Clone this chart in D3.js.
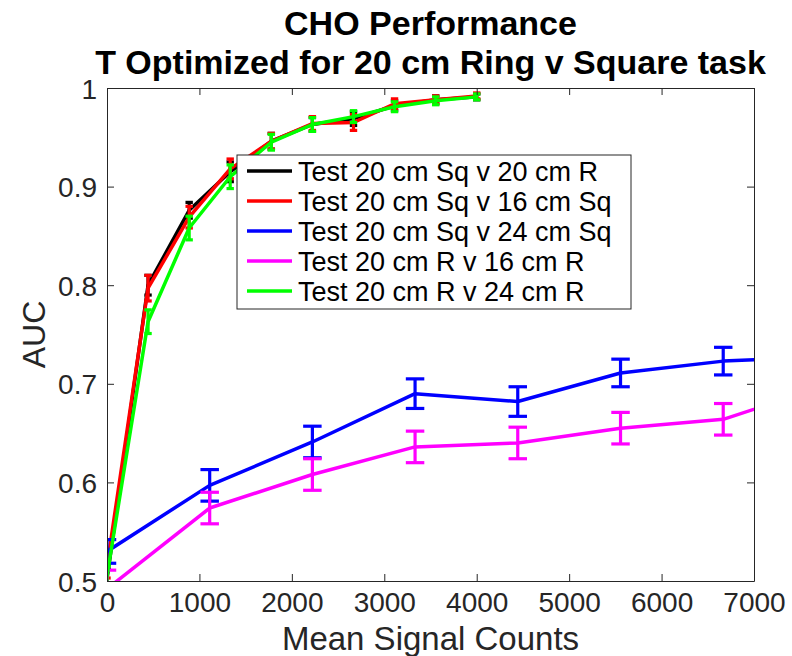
<!DOCTYPE html>
<html>
<head>
<meta charset="utf-8">
<script src="https://cdn.jsdelivr.net/npm/d3@7"></script>
<style>
  html, body { margin: 0; padding: 0; background: #fff; }
  svg { display: block; font-family: "Liberation Sans", Arial, Helvetica, sans-serif; }
</style>
</head>
<body>
<svg id="chart" width="792" height="656"></svg>
<script>
// ---------- data ----------
const titleLines = ["CHO Performance", "T Optimized for 20 cm Ring v Square task"];
const xLabel = "Mean Signal Counts";
const yLabel = "AUC";
const xTicks = [0, 1000, 2000, 3000, 4000, 5000, 6000, 7000];
const yTicks = [0.5, 0.6, 0.7, 0.8, 0.9, 1.0];
const yTickLabels = ["0.5", "0.6", "0.7", "0.8", "0.9", "1"];

const seriesNames = [
  "Test 20 cm Sq v 20 cm R",
  "Test 20 cm Sq v 16 cm Sq",
  "Test 20 cm Sq v 24 cm Sq",
  "Test 20 cm R v 16 cm R",
  "Test 20 cm R v 24 cm R"
];
const seriesColors = ["#000000", "#ff0000", "#0000ff", "#ff00ff", "#00ff00"];

// dense counts (first, second, fifth series)
const countsDense = [0, 444, 889, 1333, 1778, 2222, 2667, 3111, 3556, 4000];
// sparse counts (third, fourth series)
const countsSparse = [0, 1111, 2222, 3333, 4444, 5556, 6667, 7778];

const aucSqR20   = [0.502, 0.800, 0.876, 0.915, 0.946, 0.963, 0.969, 0.982, 0.988, 0.991];
const errSqR20   = [0.010, 0.010, 0.008, 0.010, 0.008, 0.007, 0.007, 0.005, 0.004, 0.003];
const aucSq16    = [0.515, 0.797, 0.869, 0.918, 0.946, 0.964, 0.965, 0.984, 0.988, 0.992];
const errSq16    = [0.012, 0.013, 0.011, 0.010, 0.008, 0.007, 0.008, 0.005, 0.004, 0.003];
const aucSq24    = [0.530, 0.597, 0.641, 0.690, 0.682, 0.711, 0.723, 0.728];
const errSq24    = [0.012, 0.016, 0.016, 0.015, 0.015, 0.014, 0.014, 0.014];
const aucR16     = [0.492, 0.574, 0.608, 0.636, 0.640, 0.655, 0.664, 0.698];
const errR16     = [0.019, 0.016, 0.016, 0.016, 0.016, 0.016, 0.016, 0.016];
const aucR24     = [0.505, 0.763, 0.858, 0.910, 0.945, 0.963, 0.971, 0.981, 0.987, 0.991];
const errR24     = [0.010, 0.012, 0.012, 0.012, 0.008, 0.007, 0.006, 0.005, 0.004, 0.003];

const seriesX   = [countsDense, countsDense, countsSparse, countsSparse, countsDense];
const seriesY   = [aucSqR20, aucSq16, aucSq24, aucR16, aucR24];
const seriesErr = [errSqR20, errSq16, errSq24, errR16, errR24];
const capHalf   = [40, 40, 100, 100, 40]; // cap half-width in data units (x range / 100)

// ---------- layout ----------
const svg = d3.select("#chart");
const L = 107, R = 754, T = 88, B = 581;
const x = d3.scaleLinear().domain([0, 7000]).range([L, R]);
const y = d3.scaleLinear().domain([0.5, 1.0]).range([B, T]);
const axisColor = "#262626";

// clip
svg.append("defs").append("clipPath").attr("id", "clip")
  .append("rect").attr("x", L).attr("y", T).attr("width", R - L).attr("height", B - T);

// title
svg.append("g").selectAll("text").data(titleLines).join("text")
  .attr("x", (L + R) / 2)
  .attr("y", (d, i) => 35 + i * 39)
  .attr("text-anchor", "middle")
  .attr("font-size", 34)
  .attr("font-weight", "bold")
  .attr("fill", "#000")
  .text(d => d);

// data
const plot = svg.append("g").attr("clip-path", "url(#clip)");
seriesNames.forEach((name, s) => {
  const pts = seriesX[s].map((xv, i) => ({ x: xv, y: seriesY[s][i], e: seriesErr[s][i] }));
  const g = plot.append("g");
  g.append("path")
    .datum(pts)
    .attr("fill", "none")
    .attr("stroke", seriesColors[s])
    .attr("stroke-width", 3.5)
    .attr("stroke-linejoin", "round")
    .attr("d", d3.line().x(d => x(d.x)).y(d => y(d.y)));
  const eb = g.selectAll("g.eb").data(pts).join("g").attr("class", "eb")
    .attr("stroke", seriesColors[s]).attr("stroke-width", 3.2);
  eb.append("line")
    .attr("x1", d => x(d.x)).attr("x2", d => x(d.x))
    .attr("y1", d => y(d.y - d.e)).attr("y2", d => y(d.y + d.e));
  eb.append("line")
    .attr("x1", d => x(d.x - capHalf[s])).attr("x2", d => x(d.x + capHalf[s]))
    .attr("y1", d => y(d.y + d.e)).attr("y2", d => y(d.y + d.e));
  eb.append("line")
    .attr("x1", d => x(d.x - capHalf[s])).attr("x2", d => x(d.x + capHalf[s]))
    .attr("y1", d => y(d.y - d.e)).attr("y2", d => y(d.y - d.e));
});

// axes (box with inward ticks)
const tickLen = 7;
const axB = svg.append("g").attr("transform", `translate(0,${B})`)
  .call(d3.axisBottom(x).tickValues(xTicks).tickSizeInner(-tickLen).tickSizeOuter(0).tickPadding(14).tickFormat(d3.format("d")));
const axT = svg.append("g").attr("transform", `translate(0,${T})`)
  .call(d3.axisTop(x).tickValues(xTicks).tickSizeInner(-tickLen).tickSizeOuter(0).tickFormat(""));
const axL = svg.append("g").attr("transform", `translate(${L},0)`)
  .call(d3.axisLeft(y).tickValues(yTicks).tickSizeInner(-tickLen).tickSizeOuter(0).tickPadding(10)
    .tickFormat((d, i) => yTickLabels[i]));
const axR = svg.append("g").attr("transform", `translate(${R},0)`)
  .call(d3.axisRight(y).tickValues(yTicks).tickSizeInner(-tickLen).tickSizeOuter(0).tickFormat(""));
[axB, axT, axL, axR].forEach(a => {
  a.select(".domain").attr("stroke", axisColor).attr("stroke-width", 1);
  a.selectAll(".tick line").attr("stroke", axisColor).attr("stroke-width", 1);
  a.selectAll("text").attr("fill", axisColor).attr("font-size", 28)
    .attr("font-family", "'Liberation Sans', Arial, Helvetica, sans-serif");
});
axB.selectAll("text").attr("y", 31).attr("dy", 0);
axL.selectAll("text").attr("dy", "0.36em");

// axis labels
svg.append("text")
  .attr("x", (L + R) / 2).attr("y", 650)
  .attr("text-anchor", "middle").attr("font-size", 33).attr("fill", axisColor)
  .text(xLabel);
svg.append("text")
  .attr("transform", `translate(45,${(T + B) / 2}) rotate(-90)`)
  .attr("text-anchor", "middle").attr("font-size", 32).attr("fill", axisColor)
  .text(yLabel);

// legend
const lgX = 237, lgY = 155, lgW = 394, lgH = 154, rowH = 30;
const lg = svg.append("g");
lg.append("rect").attr("x", lgX).attr("y", lgY).attr("width", lgW).attr("height", lgH)
  .attr("fill", "#fff").attr("stroke", axisColor).attr("stroke-width", 1);
const rows = lg.selectAll("g.row").data(seriesNames).join("g").attr("class", "row")
  .attr("transform", (d, i) => `translate(${lgX},${lgY + 16 + i * rowH})`);
rows.append("line").attr("x1", 10).attr("x2", 55).attr("y1", 0).attr("y2", 0)
  .attr("stroke", (d, i) => seriesColors[i]).attr("stroke-width", 3.5);
rows.append("text").attr("x", 61).attr("y", 0).attr("dy", "0.36em")
  .attr("font-size", 27).attr("fill", "#000").text(d => d);
</script>
</body>
</html>
